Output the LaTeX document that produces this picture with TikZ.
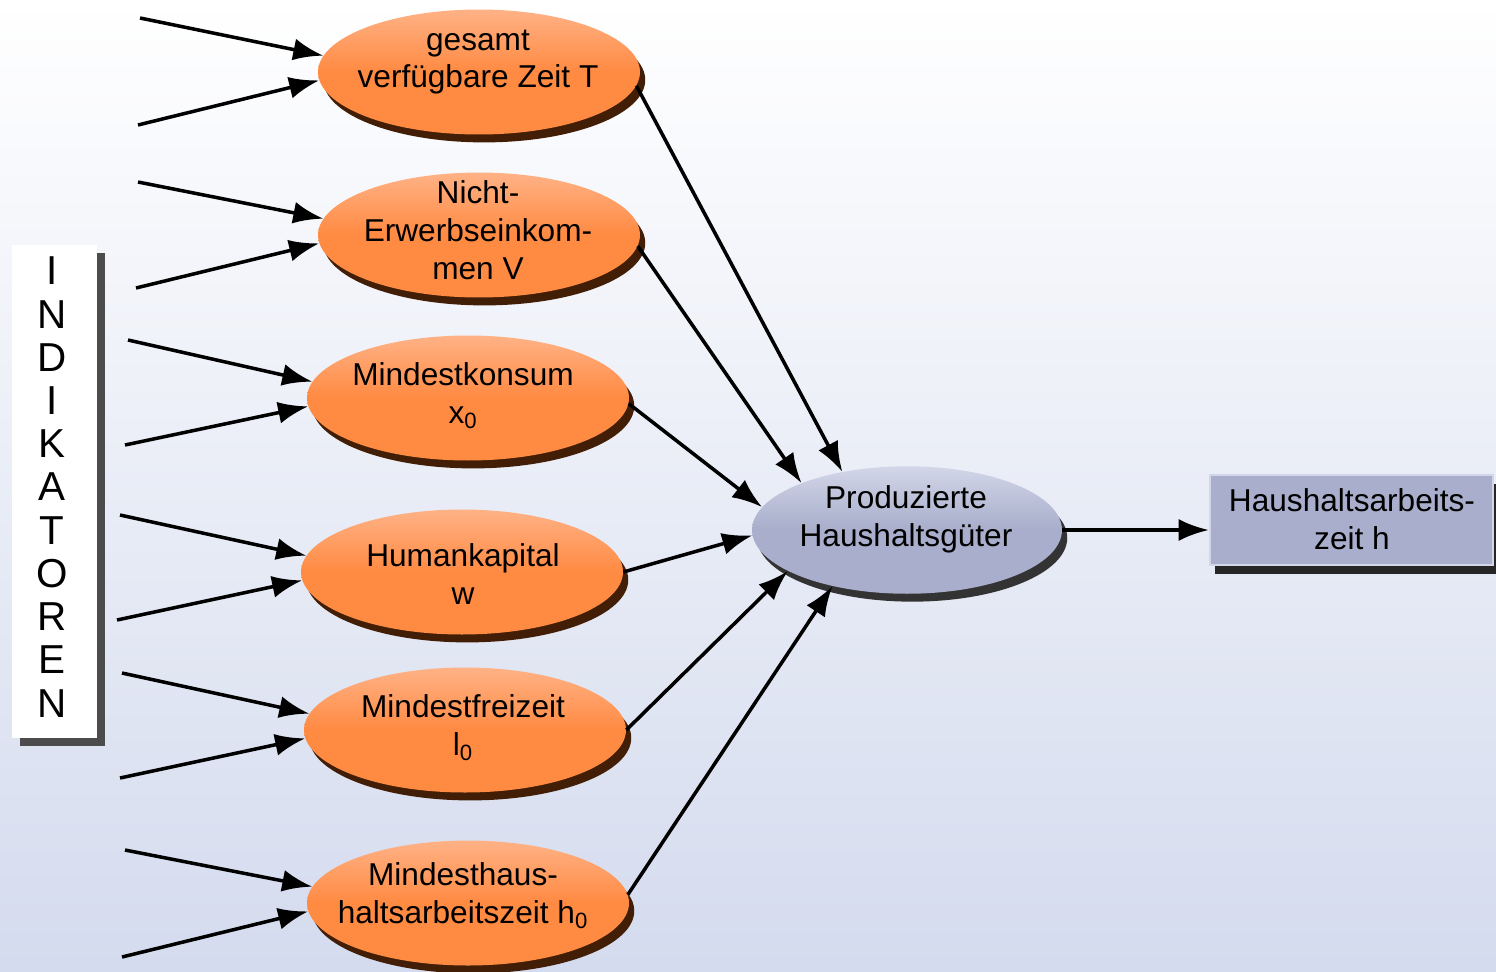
\documentclass[tikz,border=0pt]{standalone}
\usepackage{fontspec}
\setmainfont{Liberation Sans}
\usetikzlibrary{arrows.meta,shapes.geometric,shadows}
\definecolor{orangefill}{RGB}{255,138,66}
\definecolor{orangetop}{RGB}{255,178,134}
\definecolor{orangeshadow}{RGB}{66,30,6}
\definecolor{bluefill}{RGB}{168,174,203}
\definecolor{bluetop}{RGB}{210,214,232}
\definecolor{bgbottom}{RGB}{212,219,238}
\tikzset{
  indikator/.style={ellipse, minimum width=6.44cm, minimum height=2.5cm, inner sep=0pt,
    top color=orangetop, bottom color=orangefill, middle color=orangefill,
    drop shadow={shadow xshift=3pt, shadow yshift=-4.5pt, fill=orangeshadow, opacity=1}},
  gueter/.style={ellipse, minimum width=6.2cm, minimum height=2.55cm, inner sep=0pt,
    top color=bluetop, bottom color=bluefill, middle color=bluefill,
    drop shadow={shadow xshift=3pt, shadow yshift=-4.5pt, fill=black!80, opacity=1}},
  zielbox/.style={rectangle, minimum width=5.66cm, minimum height=1.8cm, inner sep=0pt,
    fill=bluefill, draw=bluetop, line width=1.5pt,
    drop shadow={shadow xshift=3pt, shadow yshift=-5pt, fill=black!85, opacity=1}},
  seitenbox/.style={rectangle, minimum width=1.7cm, minimum height=9.86cm, inner sep=0pt,
    fill=white, drop shadow={shadow xshift=4.5pt, shadow yshift=-4.5pt, fill=black!70, opacity=1}},
  txt/.style={align=center, inner sep=0pt, font=\fontsize{18}{21.5}\selectfont},
  pfeil/.style={-{Latex[length=0.6cm,width=0.44cm]}, line width=2pt, black}
}
\begin{document}
\begin{tikzpicture}[x=0.02cm, y=-0.02cm]
  \useasboundingbox (0,0) rectangle (1496,971);
  \shade[top color=white, bottom color=bgbottom] (0,0) rectangle (1496,971);

  % Indikatoren
  \node[seitenbox] at (54.5,491.5) (indik) {};
  \node[align=center, inner sep=0pt, font=\fontsize{23}{24.6}\selectfont] at (52,487) (indiktxt)
    {I\\N\\D\\I\\K\\A\\T\\O\\R\\E\\N};

  % exogene Groessen
  \node[indikator] at (479,72) (zeit) {};
  \node[txt] at (478,62) (zeittxt) {gesamt\\verfügbare Zeit T};
  \node[indikator] at (479,235) (einkommen) {};
  \node[txt] at (478,230) (einkommentxt) {Nicht-\\Erwerbseinkom-\\men V};
  \node[indikator] at (468,398) (konsum) {};
  \node[txt] at (463,396) (konsumtxt) {Mindestkonsum\\x\textsubscript{0}};
  \node[indikator] at (462,572) (kapital) {};
  \node[txt] at (463,574) (kapitaltxt) {Humankapital\\w};
  \node[indikator] at (465,730) (freizeit) {};
  \node[txt] at (463,728) (freizeittxt) {Mindestfreizeit\\l\textsubscript{0}};
  \node[indikator] at (468,903) (hausarbeit) {};
  \node[txt] at (463,896) (hausarbeittxt) {Mindesthaus-\\haltsarbeitszeit h\textsubscript{0}};

  % Haushaltsgueter und Ergebnis
  \node[gueter] at (907,530) (gueter) {};
  \node[txt] at (906,519) (guetertxt) {Produzierte\\Haushaltsgüter};
  \node[zielbox] at (1351.5,520) (hzeit) {};
  \node[txt] at (1352,519) (hzeittxt) {Haushaltsarbeits-\\zeit h};

  % freie Enden der Indikatorpfeile
  \coordinate (z1) at (140,18);  \coordinate (z2) at (138,125);
  \coordinate (v1) at (138,182); \coordinate (v2) at (136,288);
  \coordinate (k1) at (128,340); \coordinate (k2) at (125,445);
  \coordinate (w1) at (120,515); \coordinate (w2) at (117,620);
  \coordinate (f1) at (122,673); \coordinate (f2) at (120,778);
  \coordinate (h1) at (125,850); \coordinate (h2) at (122,957);

  \draw[pfeil] (z1) -- (zeit.174);
  \draw[pfeil] (z2) -- (zeit.183);
  \draw[pfeil] (v1) -- (einkommen.174);
  \draw[pfeil] (v2) -- (einkommen.183);
  \draw[pfeil] (k1) -- (konsum.174);
  \draw[pfeil] (k2) -- (konsum.183);
  \draw[pfeil] (w1) -- (kapital.174);
  \draw[pfeil] (w2) -- (kapital.183);
  \draw[pfeil] (f1) -- (freizeit.174);
  \draw[pfeil] (f2) -- (freizeit.183);
  \draw[pfeil] (h1) -- (hausarbeit.174);
  \draw[pfeil] (h2) -- (hausarbeit.183);

  % in die Haushaltsproduktion
  \draw[pfeil] (zeit.355) -- (gueter.138);
  \draw[pfeil] (einkommen.356) -- (gueter.156);
  \draw[pfeil] (konsum.358) -- (gueter.171);
  \draw[pfeil] (kapital.east) -- (gueter.182);
  \draw[pfeil] (freizeit.east) -- (gueter.199);
  \draw[pfeil] (hausarbeit.3) -- (gueter.217);
  \draw[pfeil] (gueter.east) -- (gueter.east -| hzeit.west);
\end{tikzpicture}
\end{document}
